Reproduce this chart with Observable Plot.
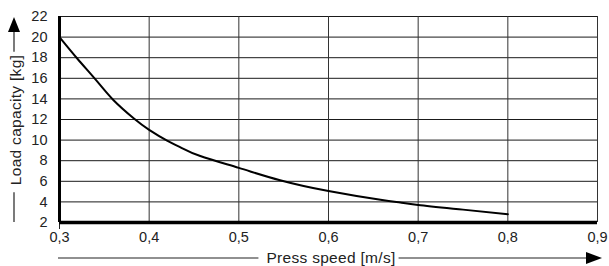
<!DOCTYPE html>
<html>
<head>
<meta charset="utf-8">
<script src="https://cdn.jsdelivr.net/npm/d3@7"></script>
<script src="https://cdn.jsdelivr.net/npm/@observablehq/plot@0.6"></script>
<style>
  html, body { margin: 0; padding: 0; background: #fff; }
  #chart svg { display: block; }
</style>
</head>
<body>
<div id="chart"></div>
<script>
// Data
const speed = [0.30, 0.32, 0.342, 0.36, 0.383, 0.40, 0.42, 0.435, 0.457, 0.50, 0.546, 0.60, 0.658, 0.68, 0.70, 0.75, 0.80];
const load  = [20.0, 17.9, 15.7, 13.9, 12.1, 11.0, 9.95, 9.3, 8.45, 7.3, 6.1, 5.05, 4.2, 3.95, 3.7, 3.25, 2.8];
const xTicks = [0.3, 0.4, 0.5, 0.6, 0.7, 0.8, 0.9];
const yTicks = [2, 4, 6, 8, 10, 12, 14, 16, 18, 20, 22];
const xTitle = "Press speed [m/s]";
const yTitle = "Load capacity [kg]";

const curve = speed.map((s, i) => ({speed: s, load: load[i]}));
const fmt = d => d.toFixed(1).replace(".", ",");

const W = 609, H = 266;
const plot = Plot.plot({
  width: W,
  height: H,
  marginLeft: 59,
  marginRight: 12,
  marginTop: 16,
  marginBottom: 44,
  style: {fontFamily: "'Liberation Sans', Arial, sans-serif", fontSize: "14px", color: "#222", background: "#fff"},
  x: {domain: [0.3, 0.9], ticks: xTicks, tickFormat: fmt, label: null},
  y: {domain: [2, 22], ticks: yTicks, label: null},
  marks: [
    // grid
    Plot.ruleY(yTicks.filter(d => d > 2), {stroke: "#1a1a1a", strokeWidth: 1}),
    Plot.ruleX(xTicks.filter(d => d > 0.3), {stroke: "#333", strokeWidth: 1}),
    // axes text
    Plot.axisY({ticks: yTicks, tickSize: 0, tickPadding: 12, fontSize: 14.5, label: null}),
    Plot.axisX({ticks: xTicks, tickSize: 0, tickPadding: 9, tickFormat: fmt, fontSize: 14.5, label: null}),
    Plot.axisX({ticks: [0.3], tickSize: 7, text: null, label: null, stroke: "#222"}),
    // thick frame edges
    Plot.ruleX([0.3], {stroke: "#000", strokeWidth: 3}),
    Plot.ruleY([2], {stroke: "#000", strokeWidth: 3.5}),
    // curve
    Plot.line(curve, {x: "speed", y: "load", stroke: "#000", strokeWidth: 2, curve: "natural"})
  ]
});
document.getElementById("chart").appendChild(plot);

// Axis titles with arrows
const svg = d3.select(plot);
const ff = "'Liberation Sans', Arial, sans-serif";
// X title
const xt = svg.append("text")
  .attr("x", 331).attr("y", 258).attr("dy", "0.35em")
  .attr("text-anchor", "middle")
  .attr("font-family", ff).attr("font-size", 15.5).attr("letter-spacing", "0.3px").attr("fill", "#222")
  .text(xTitle);
const xb = xt.node().getBBox();
svg.append("line").attr("x1", 58).attr("x2", xb.x - 8).attr("y1", 258).attr("y2", 258).attr("stroke", "#222").attr("stroke-width", 1.2);
svg.append("line").attr("x1", xb.x + xb.width + 3).attr("x2", 588).attr("y1", 258).attr("y2", 258).attr("stroke", "#222").attr("stroke-width", 1.2);
svg.append("path").attr("d", "M586,252L602,258L586,264Z").attr("fill", "#000");
// Y title
const yt = svg.append("text")
  .attr("transform", "translate(16,120) rotate(-90)")
  .attr("dy", "0.35em")
  .attr("text-anchor", "middle")
  .attr("font-family", ff).attr("font-size", 15.5).attr("letter-spacing", "0.3px").attr("fill", "#222")
  .text(yTitle);
const tw = yt.node().getComputedTextLength();
svg.append("line").attr("x1", 14).attr("x2", 14).attr("y1", 120 + tw / 2 + 7).attr("y2", 222).attr("stroke", "#222").attr("stroke-width", 1.2);
svg.append("line").attr("x1", 14).attr("x2", 14).attr("y1", 30).attr("y2", 120 - tw / 2 - 3).attr("stroke", "#222").attr("stroke-width", 1.2);
svg.append("path").attr("d", "M8,32L14,17L20,32Z").attr("fill", "#000");
</script>
</body>
</html>
